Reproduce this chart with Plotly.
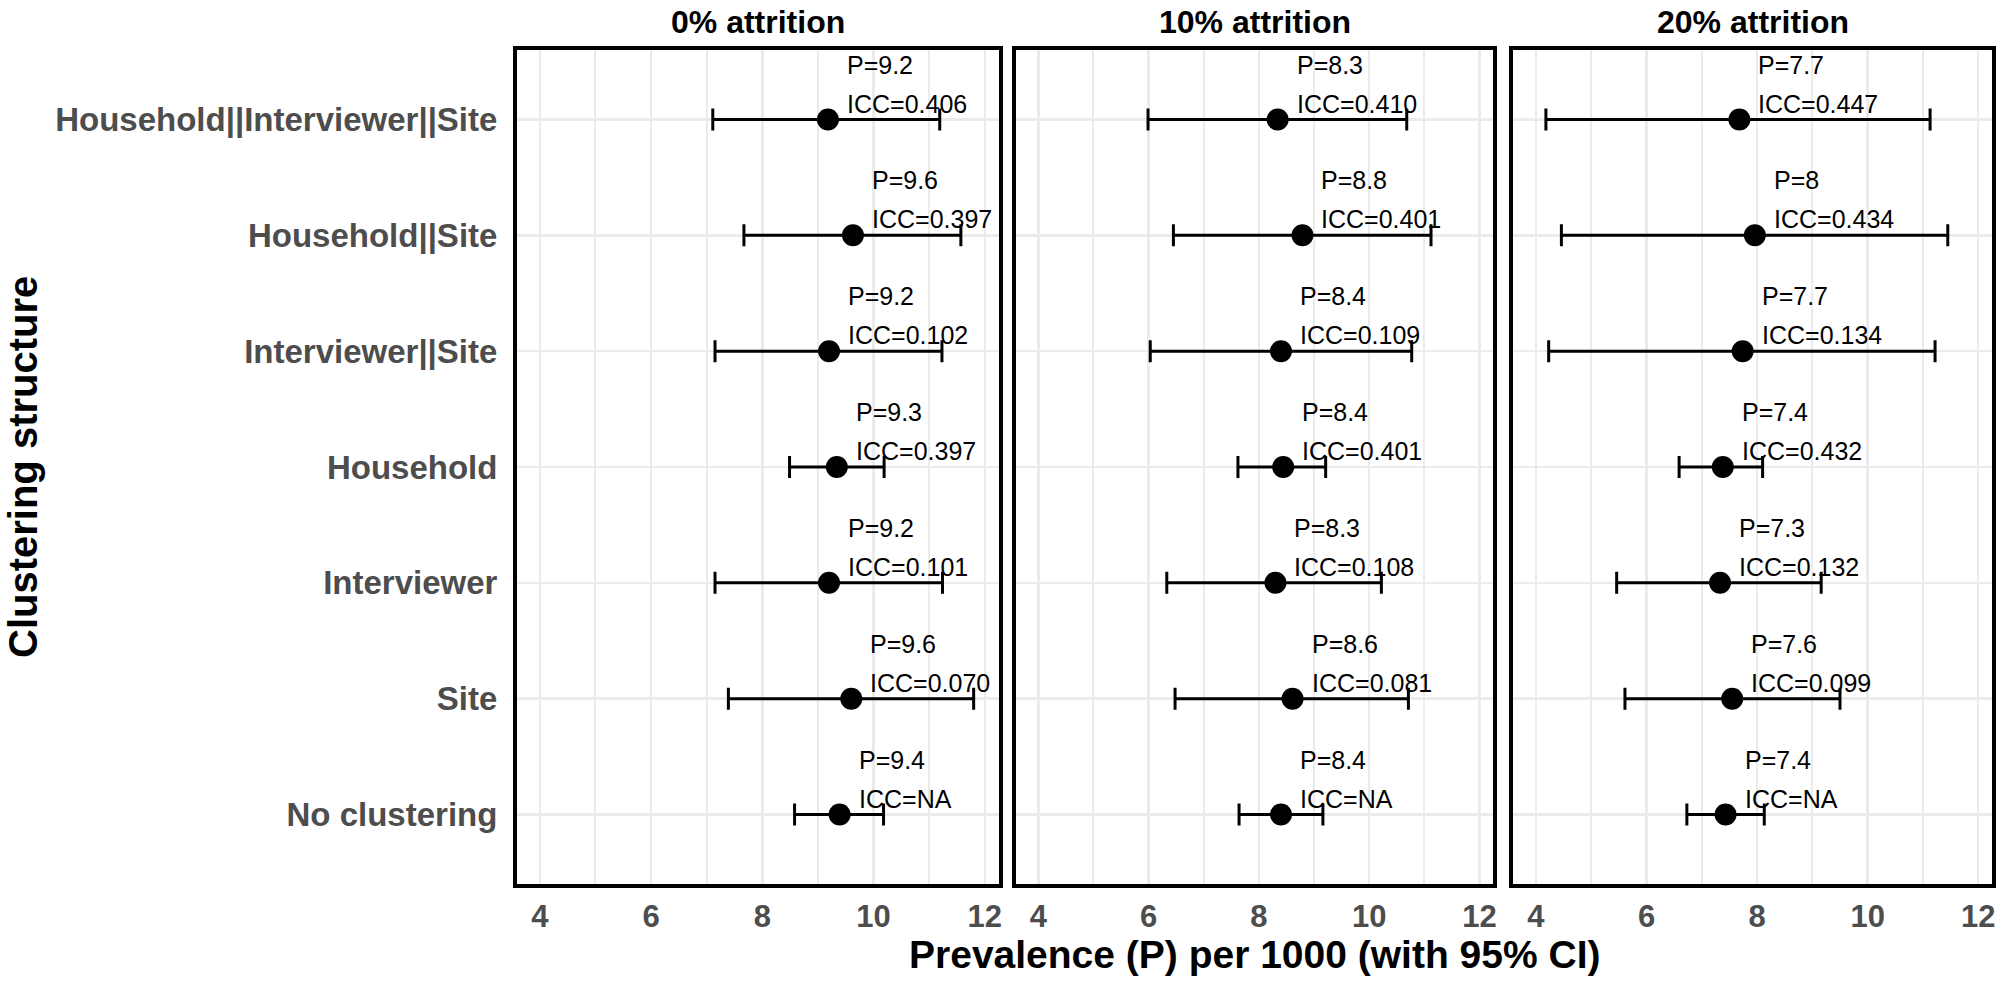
import plotly.graph_objects as go

# ---------------- data ----------------
rows = ["Household||Interviewer||Site", "Household||Site", "Interviewer||Site",
        "Household", "Interviewer", "Site", "No clustering"]

panel_titles = ["0% attrition", "10% attrition", "20% attrition"]

p_0 = [9.18, 9.63, 9.20, 9.34, 9.20, 9.60, 9.39]
lo_0 = [7.11, 7.67, 7.15, 8.49, 7.15, 7.39, 8.58]
hi_0 = [11.19, 11.57, 11.23, 10.19, 11.24, 11.80, 10.18]
plab_0 = ["9.2", "9.6", "9.2", "9.3", "9.2", "9.6", "9.4"]
icc_0 = ["0.406", "0.397", "0.102", "0.397", "0.101", "0.070", "NA"]

p_10 = [8.34, 8.79, 8.40, 8.44, 8.30, 8.61, 8.40]
lo_10 = [5.99, 6.45, 6.03, 7.62, 6.33, 6.48, 7.64]
hi_10 = [10.68, 11.12, 10.77, 9.21, 10.22, 10.71, 9.16]
plab_10 = ["8.3", "8.8", "8.4", "8.4", "8.3", "8.6", "8.4"]
icc_10 = ["0.410", "0.401", "0.109", "0.401", "0.108", "0.081", "NA"]

p_20 = [7.68, 7.96, 7.74, 7.38, 7.33, 7.55, 7.43]
lo_20 = [4.18, 4.46, 4.23, 6.59, 5.46, 5.61, 6.73]
hi_20 = [11.13, 11.45, 11.22, 8.10, 9.16, 9.50, 8.13]
plab_20 = ["7.7", "8", "7.7", "7.4", "7.3", "7.6", "7.4"]
icc_20 = ["0.447", "0.434", "0.134", "0.432", "0.132", "0.099", "NA"]

x_ticks = [4, 6, 8, 10, 12]

x_title = "Prevalence (P) per 1000 (with 95% CI)"
y_title = "Clustering structure"

panels = [
    (p_0, lo_0, hi_0, plab_0, icc_0),
    (p_10, lo_10, hi_10, plab_10, icc_10),
    (p_20, lo_20, hi_20, plab_20, icc_20),
]

# ---------------- layout geometry ----------------
W, H = 2008, 990
px_domains = [(517, 1000), (1017, 1496), (1516, 1996)]
ML = px_domains[0][0]
MR = W - px_domains[-1][1]
MT = 50
MB = H - 884
plot_w = W - ML - MR
domains = [((a - ML) / plot_w, (b - ML) / plot_w) for a, b in px_domains]

FONT = "Liberation Sans, Arial, sans-serif"
GRID = "#EBEBEB"

fig = go.Figure()
annotations = []

for i, (p, lo, hi, plab, icc) in enumerate(panels):
    n = "" if i == 0 else str(i + 1)
    fig.add_trace(go.Scatter(
        x=p, y=rows, mode="markers",
        xaxis="x" + n, yaxis="y" + n,
        marker=dict(size=22, color="black"),
        error_x=dict(type="data", symmetric=False,
                     array=[h - v for h, v in zip(hi, p)],
                     arrayminus=[v - l for v, l in zip(p, lo)],
                     color="black", thickness=3, width=11),
        showlegend=False, hoverinfo="skip",
    ))
    for v, r, pl, ic in zip(p, rows, plab, icc):
        annotations.append(dict(
            x=v, y=r, xref="x" + n, yref="y" + n, text="P=" + pl,
            showarrow=False, xanchor="left", yanchor="middle",
            xshift=17, yshift=55, font=dict(family=FONT, size=25, color="black")))
        annotations.append(dict(
            x=v, y=r, xref="x" + n, yref="y" + n, text="ICC=" + ic,
            showarrow=False, xanchor="left", yanchor="middle",
            xshift=17, yshift=16, font=dict(family=FONT, size=25, color="black")))
    # panel title
    annotations.append(dict(
        x=sum(domains[i]) / 2, y=1, xref="paper", yref="paper",
        text=panel_titles[i], showarrow=False, xanchor="center", yanchor="bottom",
        yshift=8, font=dict(family=FONT, size=32, color="black", weight="bold")))

    xa = dict(
        domain=list(domains[i]), range=[3.59, 12.25],
        tickmode="array", tickvals=x_ticks, ticktext=[str(t) for t in x_ticks],
        showgrid=True, gridcolor=GRID, gridwidth=2.5,
        minor=dict(dtick=1, tick0=4, showgrid=True, gridcolor=GRID, gridwidth=2),
        showline=True, linecolor="black", linewidth=4, mirror=True,
        ticks="", ticklabelstandoff=2,
        tickfont=dict(family=FONT, size=31, color="#4D4D4D", weight="bold"),
        zeroline=False, anchor="y" + n,
    )
    ya = dict(
        domain=[0, 1], type="category", categoryarray=rows[::-1],
        range=[-0.6, 6.6],
        showgrid=True, gridcolor=GRID, gridwidth=2.5,
        showline=True, linecolor="black", linewidth=4, mirror=True,
        ticks="", showticklabels=(i == 0), ticklabelstandoff=9,
        tickfont=dict(family=FONT, size=33, color="#4D4D4D", weight="bold"),
        zeroline=False, anchor="x" + n,
    )
    fig.update_layout(**{"xaxis" + n: xa, "yaxis" + n: ya})

# axis titles
annotations.append(dict(
    x=0.5, y=0, xref="paper", yref="paper", text=x_title, showarrow=False,
    xanchor="center", yanchor="middle", yshift=-70,
    font=dict(family=FONT, size=39, color="black", weight="bold")))
annotations.append(dict(
    x=0, y=0.5, xref="paper", yref="paper", text=y_title, showarrow=False,
    xanchor="center", yanchor="middle", xshift=-(517 - 23), textangle=-90,
    font=dict(family=FONT, size=40, color="black", weight="bold")))

fig.update_layout(
    width=W, height=H,
    margin=dict(l=ML, r=MR, t=MT, b=MB),
    paper_bgcolor="white", plot_bgcolor="white",
    annotations=annotations,
    font=dict(family=FONT),
    hovermode=False,
)

# remove the default page margin so the figure sits at the window's corner
fig.write_html("out.html",
               config={"displayModeBar": False, "staticPlot": True},
               post_script="document.body.style.margin='0px';"
                           "document.body.style.overflow='hidden';")
